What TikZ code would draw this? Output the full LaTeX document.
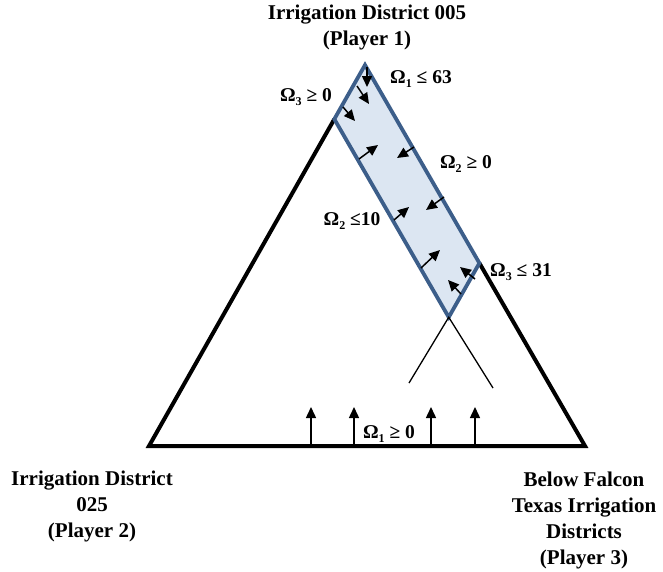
\documentclass[tikz,border=0pt]{standalone}
\usepackage{fontspec}
\setmainfont{Liberation Serif}
\usepackage{xcolor}
\usetikzlibrary{arrows.meta,calc,positioning}
\definecolor{bandfill}{RGB}{220,230,242}
\definecolor{bandline}{RGB}{60,94,138}
\newcommand{\idx}[1]{\raisebox{-0.5ex}{\fontsize{12}{12}\selectfont #1}}
\tikzset{
  region/.style={fill=bandfill,draw=bandline,line width=3.8pt,line join=miter},
  lado/.style={line width=4pt,line join=miter},
  corte/.style={line width=1.3pt},
  flecha/.style={-{Triangle[length=11pt,width=10pt]},line width=1.5pt},
  etiqueta/.style={font=\bfseries\fontsize{19.5}{21}\selectfont,inner sep=0pt},
  jugador/.style={font=\bfseries\fontsize{21}{26}\selectfont,align=center,inner sep=0pt}
}

\begin{document}
\begin{tikzpicture}[x=1pt,y=-1pt]
\useasboundingbox (0,0) rectangle (663,571);
% vertices
\coordinate (A) at (365,65);
\coordinate (B) at (149,446);
\coordinate (C) at (585,446);
\coordinate (P) at ($(A)!0.142!(B)$);
\coordinate (Q) at ($(A)!0.52!(C)$);
\coordinate (R) at ($(P)+(Q)-(A)$);
\coordinate (R1) at (409,383);
\coordinate (R2) at (493,388);
% triangulo y banda
\draw[lado] (P) -- (B) -- (C) -- (Q);
\draw[region] (A) -- (P) -- (R) -- (Q) -- cycle;
\draw[corte] (R1) -- (R) -- (R2);
% flechas
\foreach \a/\b/\c/\d in {367/67/367/87, 357/86/369/104, 343/107/355/121,
  359/159/378/145, 414/147/397/158, 394/220/409/207, 444/197/426/210,
  421/268/440/250, 475/279/460/267, 461/294/448/280}
  \draw[flecha] (\a,\b) -- (\c,\d);
\foreach \x in {311,354,431,475}
  \draw[flecha] (\x,446) -- (\x,407);
% rotulos
\node[jugador] (p1) at (367,27) {Irrigation District 005\\(Player 1)};
\node[jugador] (p2) at (92,506) {Irrigation District\\025\\(Player 2)};
\node[jugador] (p3) at (584,520) {Below Falcon\\Texas Irrigation\\Districts\\(Player 3)};
\node[etiqueta] (w1a) at (421,79) {Ω\idx{1} ≤ 63};
\node[etiqueta] (w3a) at (306,97) {Ω\idx{3} ≥ 0};
\node[etiqueta] (w2a) at (466,164) {Ω\idx{2} ≥ 0};
\node[etiqueta] (w2b) at (352,221) {Ω\idx{2} ≤10};
\node[etiqueta] (w3b) at (521,272) {Ω\idx{3} ≤ 31};
\node[etiqueta] (w1b) at (389,434) {Ω\idx{1} ≥ 0};
\end{tikzpicture}
\end{document}
